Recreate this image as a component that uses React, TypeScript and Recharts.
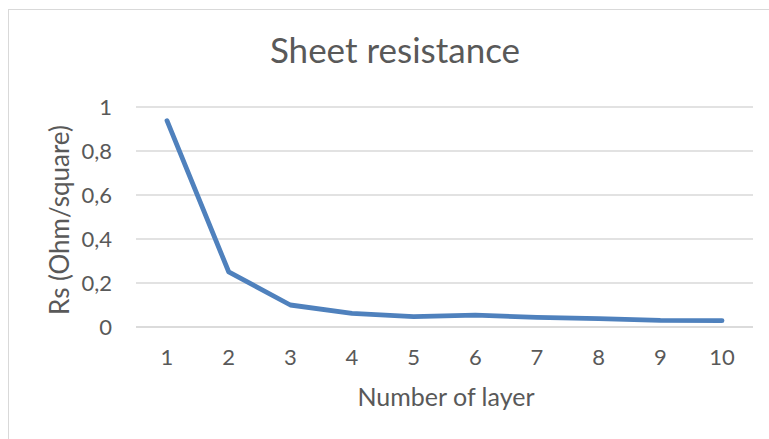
import React from "react";
import { LineChart, Line, XAxis, YAxis, CartesianGrid, Label } from "recharts";

const layers = ["1", "2", "3", "4", "5", "6", "7", "8", "9", "10"];
const sheetResistance = [0.938, 0.251, 0.1, 0.062, 0.047, 0.054, 0.044, 0.038, 0.03, 0.029];
const yTicks = [0, 0.2, 0.4, 0.6, 0.8, 1];

const data = layers.map((layer, i) => ({ layer, rs: sheetResistance[i] }));

const FONT = "Lato, 'Open Sans', sans-serif";
const TEXT = "#595959";

export default function App() {
  return (
    <div style={{ position: "absolute", top: 0, left: 0, width: 769, height: 439, background: "#fff", overflow: "hidden", fontFamily: FONT }}>
      <div
        style={{
          position: "absolute",
          left: 8,
          top: 9,
          width: 800,
          height: 460,
          border: "1px solid #d9d9d9",
          boxSizing: "border-box",
        }}
      />
      <svg width={769} height={80} style={{ position: "absolute", top: 0, left: 0 }}>
        <text x={395} y={63} textAnchor="middle" fill={TEXT} fontSize={35} fontFamily={FONT}>
          Sheet resistance
        </text>
      </svg>
      <LineChart
        width={769}
        height={439}
        data={data}
        margin={{ top: 107, right: 16, left: 60, bottom: 82 }}
        style={{ position: "absolute", top: 0, left: 0 }}
      >
        <CartesianGrid vertical={false} stroke="#d9d9d9" strokeWidth={1.3} />
        <XAxis
          dataKey="layer"
          padding={{ left: 31, right: 31 }}
          axisLine={{ stroke: "#d9d9d9", strokeWidth: 1.3 }}
          tickLine={false}
          tickSize={0}
          tickMargin={22}
          height={30}
          interval={0}
          tick={{ fill: TEXT, fontSize: 22, fontFamily: FONT }}
        >
          <Label
            content={() => (
              <text x={446} y={406} textAnchor="middle" fill={TEXT} fontSize={25} fontFamily={FONT}>
                Number of layer
              </text>
            )}
          />
        </XAxis>
        <YAxis
          width={76}
          domain={[0, 1]}
          ticks={yTicks}
          axisLine={false}
          tickLine={false}
          tickSize={0}
          tickMargin={24}
          tickFormatter={(v: number) => String(v).replace(".", ",")}
          tick={{ fill: TEXT, fontSize: 22, fontFamily: FONT }}
        >
          <Label
            content={() => (
              <text
                transform="translate(69 220) rotate(-90)"
                textAnchor="middle"
                fill={TEXT}
                fontSize={26}
                fontFamily={FONT}
              >
                Rs (Ohm/square)
              </text>
            )}
          />
        </YAxis>
        <Line
          type="linear"
          dataKey="rs"
          stroke="#4f81bd"
          strokeWidth={4.8}
          strokeLinecap="round"
          strokeLinejoin="round"
          dot={false}
          activeDot={false}
          isAnimationActive={false}
        />
      </LineChart>
    </div>
  );
}
